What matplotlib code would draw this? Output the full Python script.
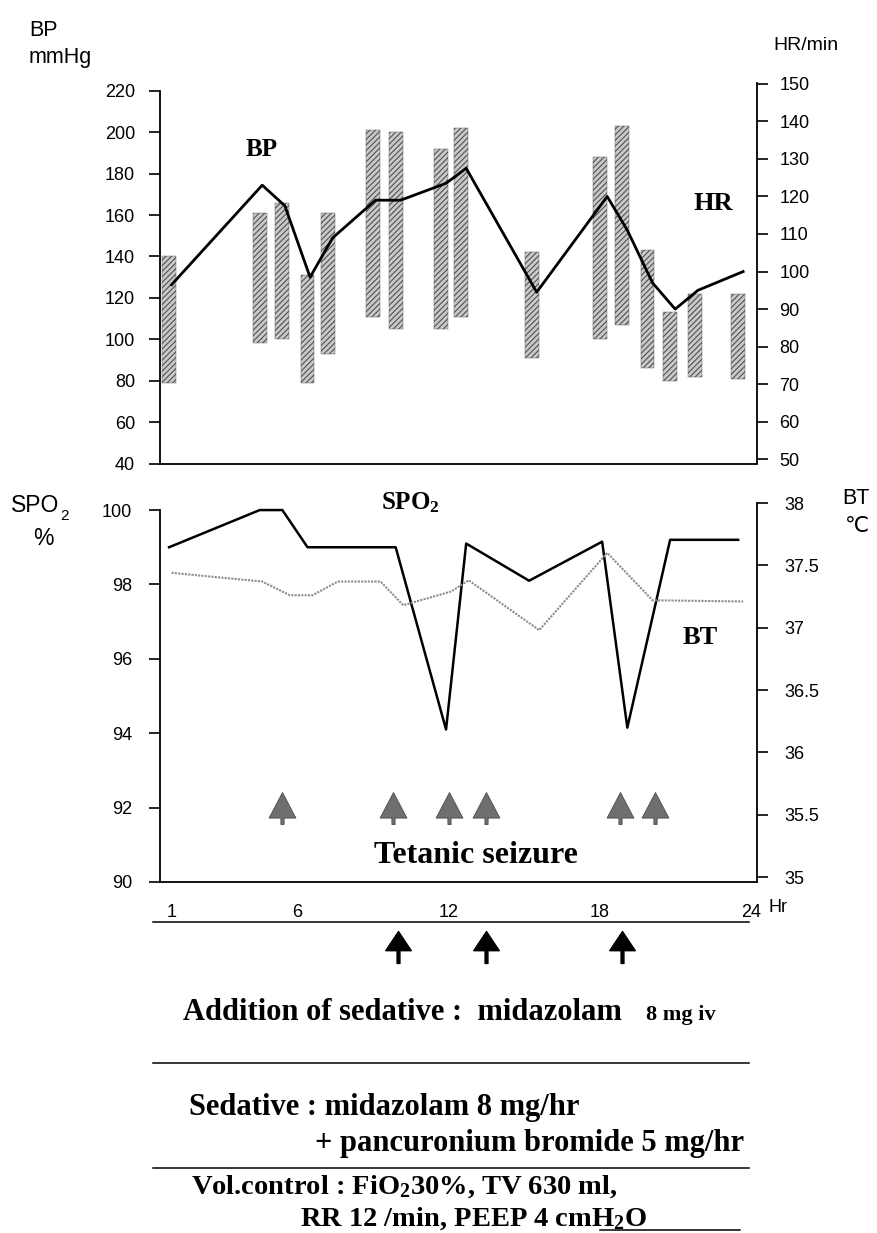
import matplotlib
matplotlib.use("Agg")
import matplotlib.pyplot as plt
from matplotlib.path import Path
from matplotlib.lines import Line2D

W, H = 878, 1233

hour_ticks = [1, 6, 12, 18, 24]

# blood pressure range bars (mmHg)
bar_hours = [0.9, 4.5, 5.4, 6.4, 7.2, 9.0, 9.9, 11.7, 12.5, 15.3, 18.0, 18.9, 19.9, 20.8, 21.8, 23.5]
bp_high = [140, 161, 166, 131, 161, 201, 200, 192, 202, 142, 188, 203, 143, 113, 122, 122]
bp_low = [79, 98, 100, 79, 93, 111, 105, 105, 111, 91, 100, 107, 86, 80, 82, 81]

# heart rate (/min)
hr_hours = [1.0, 4.6, 5.5, 6.5, 7.4, 9.1, 10.1, 11.9, 12.7, 15.5, 18.3, 19.1, 20.1, 21.0, 21.9, 23.7]
hr_vals = [96.5, 123, 117.5, 98.5, 109, 119, 119, 123.5, 127.5, 94.5, 120, 111, 97, 90, 95, 100]

# SpO2 (%)
spo2_hours = [0.9, 4.5, 5.4, 6.4, 9.9, 11.9, 12.7, 15.2, 18.1, 19.1, 20.8, 23.5]
spo2_vals = [99, 100, 100, 99, 99, 94.1, 99.1, 98.1, 99.15, 94.15, 99.2, 99.2]

# body temperature (C)
bt_hours = [1.0, 4.6, 5.7, 6.6, 7.6, 9.3, 10.2, 12.1, 12.8, 15.6, 18.3, 20.1, 23.7]
bt_vals = [37.44, 37.37, 37.26, 37.26, 37.37, 37.37, 37.18, 37.29, 37.38, 36.98, 37.6, 37.22, 37.21]

seizure_hours = [5.4, 9.8, 12.0, 13.5, 18.8, 20.2]
sedative_hours = [10.0, 13.5, 18.9]

SANS = "Liberation Sans"
SERIF = "Liberation Serif"
plt.rcParams["font.family"] = SANS
plt.rcParams["mathtext.fontset"] = "custom"
plt.rcParams["mathtext.rm"] = "Liberation Serif:bold"
plt.rcParams["mathtext.it"] = "Liberation Serif:bold"
plt.rcParams["mathtext.bf"] = "Liberation Serif:bold"
plt.rcParams["hatch.linewidth"] = 0.8


def fx(px):
    return px / W


def fy(py):
    return 1 - py / H


def box(l, t, r, b):
    return [fx(l), fy(b), (r - l) / W, (b - t) / H]


fig = plt.figure(figsize=(W / 100, H / 100), dpi=100)
xlim = (0.54, 24.25)

tick_kw = dict(direction="out", length=8, width=1.2, labelsize=13)

# ---------------- top panel: BP / HR
ax1 = fig.add_axes(box(160, 83, 757, 463.5))
ax1.bar(bar_hours, [h - l for h, l in zip(bp_high, bp_low)], bottom=bp_low, width=0.55,
        color="#c9c9c9", edgecolor="#505050", hatch="//////", linewidth=0.3)
ax1.set_xlim(*xlim)
ax1.set_ylim(40, 223.8)
ax1.set_yticks(range(40, 221, 20))
ax1.set_xticks([])
ax1.tick_params(axis="y", pad=10, **tick_kw)
ax1.spines["left"].set_bounds(40, 220)
for s in ["top", "right"]:
    ax1.spines[s].set_visible(False)

ax1r = ax1.twinx()
ax1r.plot(hr_hours, hr_vals, color="black", lw=2)
ax1r.set_ylim(48.9, 150.2)
ax1r.set_yticks(range(50, 151, 10))
ax1r.tick_params(axis="y", pad=8, **tick_kw)
for s in ["top", "left", "bottom"]:
    ax1r.spines[s].set_visible(False)

for a in (ax1, ax1r):
    for s in a.spines.values():
        s.set_linewidth(1.3)

ax1.text(0.171, 0.824, "BP", transform=ax1.transAxes, family=SERIF, weight="bold",
         fontsize=18, ha="center", va="center")
ax1.text(0.926, 0.682, "HR", transform=ax1.transAxes, family=SERIF, weight="bold",
         fontsize=19, ha="center", va="center")

fig.text(fx(29), fy(30), "BP", fontsize=15.5, ha="left", va="center")
fig.text(fx(29), fy(57), "mmHg", fontsize=15.5, ha="left", va="center")
fig.text(fx(773), fy(46), "HR/min", fontsize=14, ha="left", va="center")

# ---------------- bottom panel: SpO2 / BT
ax2 = fig.add_axes(box(160, 503, 757, 882))
ax2.plot(spo2_hours, spo2_vals, color="black", lw=1.8)
tree = Path([(-0.42, -0.3), (0, 0.5), (0.42, -0.3), (0.05, -0.3), (0.05, -0.5),
             (-0.05, -0.5), (-0.05, -0.3), (-0.42, -0.3)],
            [Path.MOVETO] + [Path.LINETO] * 6 + [Path.CLOSEPOLY])
ax2.plot(seizure_hours, [92] * len(seizure_hours), ls="none", marker=tree, ms=23,
         mfc="#6f6f6f", mec="#4a4a4a", mew=0.6)
ax2.set_xlim(*xlim)
ax2.set_ylim(90, 100.19)
ax2.set_yticks(range(90, 101, 2))
ax2.set_xticks(hour_ticks)
ax2.tick_params(axis="y", pad=12, **tick_kw)
ax2.tick_params(axis="x", length=0, labelsize=13, pad=16)
ax2.spines["left"].set_bounds(90, 100)
for s in ["top", "right"]:
    ax2.spines[s].set_visible(False)

ax2r = ax2.twinx()
ax2r.plot(bt_hours, bt_vals, color="#8c8c8c", lw=1.5, ls=(0, (1, 0.6)))
ax2r.set_ylim(34.96, 38.0)
ax2r.set_yticks([35, 35.5, 36, 36.5, 37, 37.5, 38])
ax2r.set_yticklabels(["35", "35.5", "36", "36.5", "37", "37.5", "38"])
ax2r.tick_params(axis="y", pad=12, **tick_kw)
for s in ["top", "left", "bottom"]:
    ax2r.spines[s].set_visible(False)

for a in (ax2, ax2r):
    for s in a.spines.values():
        s.set_linewidth(1.3)

ax2.text(0.419, 1.0, r"SPO$_2$", transform=ax2.transAxes, family=SERIF, weight="bold",
         fontsize=18, ha="center", va="center")
ax2.text(0.905, 0.644, "BT", transform=ax2.transAxes, family=SERIF, weight="bold",
         fontsize=19, ha="center", va="center")
ax2.text(0.53, 0.071, "Tetanic seizure", transform=ax2.transAxes, family=SERIF,
         weight="bold", fontsize=23, ha="center", va="center")

fig.text(fx(11), fy(506), "SPO", fontsize=16.5, ha="left", va="center")
fig.text(fx(60), fy(516), "2", fontsize=11, ha="left", va="center")
fig.text(fx(43), fy(538), "%", fontsize=16.5, ha="center", va="center")
fig.text(fx(842), fy(499), "BT", fontsize=15.5, ha="left", va="center")
fig.text(fx(857), fy(526), "\u2103", fontsize=15.5, ha="center", va="center",
         family=["DejaVu Sans"])
fig.text(fx(769), fy(907), "Hr", fontsize=13, ha="left", va="center")

# ---------------- notes below the chart
axn = fig.add_axes(box(160, 912, 757, 1233))
axn.set_xlim(*xlim)
axn.set_ylim(1233, 912)
axn.axis("off")
arrow = Path([(-0.4, -0.1), (0, 0.5), (0.4, -0.1), (0.045, -0.1), (0.045, -0.5),
              (-0.045, -0.5), (-0.045, -0.1), (-0.4, -0.1)],
             [Path.MOVETO] + [Path.LINETO] * 6 + [Path.CLOSEPOLY])
axn.plot(sedative_hours, [947] * len(sedative_hours), ls="none", marker=arrow, ms=23,
         mfc="black", mec="black")

for y in (922, 1063, 1168):
    fig.add_artist(Line2D([fx(153), fx(749)], [fy(y), fy(y)], color="black", lw=1.1))
fig.add_artist(Line2D([fx(600), fx(740)], [fy(1230), fy(1230)], color="black", lw=1.1))

note = dict(family=SERIF, weight="bold", ha="left", va="center")
fig.text(fx(183), fy(1013), "Addition of sedative :  midazolam", fontsize=22, **note)
fig.text(fx(646), fy(1015), "8 mg iv", fontsize=16, **note)
fig.text(fx(189), fy(1107), "Sedative : midazolam 8 mg/hr", fontsize=22, **note)
fig.text(fx(315), fy(1144), "+ pancuronium bromide 5 mg/hr", fontsize=22, **note)
fig.text(fx(191), fy(1187), r"Vol.control : FiO$_2$30%, TV 630 ml,", fontsize=20.5, **note)
fig.text(fx(300), fy(1219), r"RR 12 /min, PEEP 4 cmH$_2$O", fontsize=20.5, **note)

fig.savefig("out.png", dpi=100)
